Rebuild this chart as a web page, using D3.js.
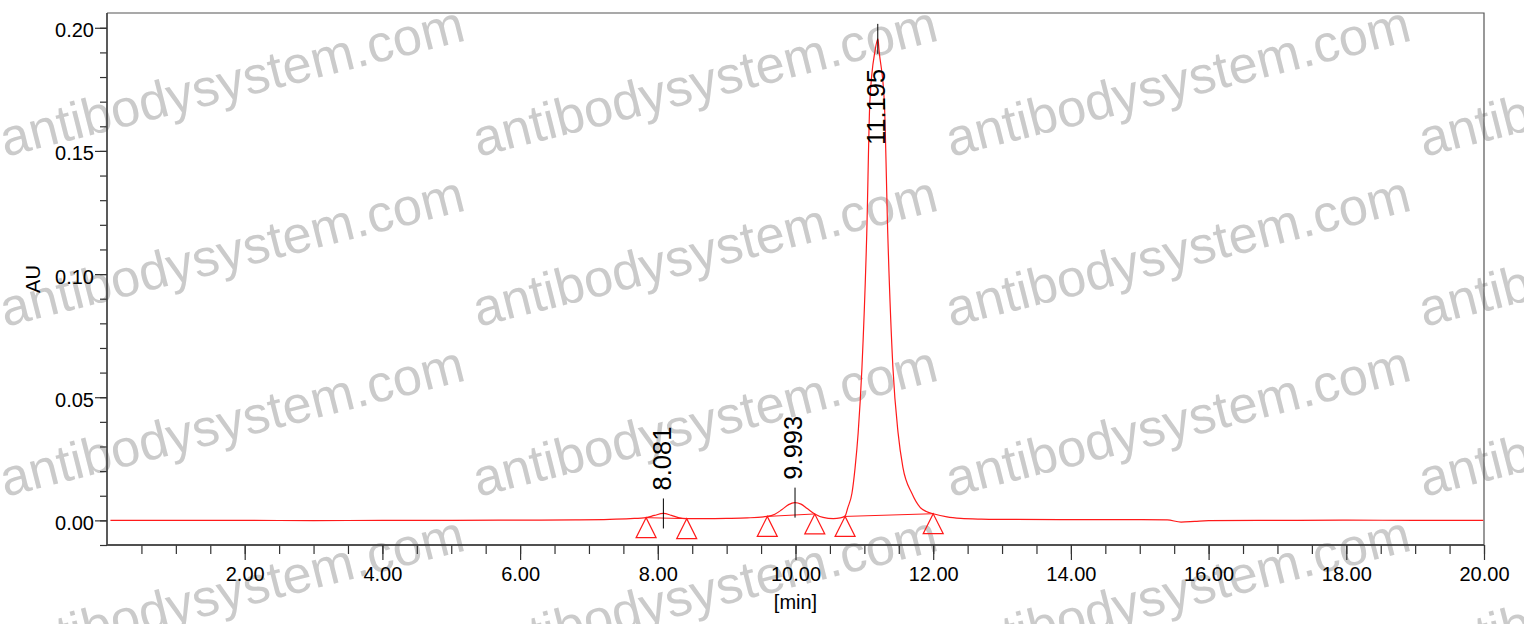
<!DOCTYPE html>
<html>
<head>
<meta charset="utf-8">
<script src="https://cdn.jsdelivr.net/npm/d3@7"></script>
<style>
  html, body { margin: 0; padding: 0; background: #fff; }
  svg { display: block; }
  text { font-family: "Liberation Sans", Arial, sans-serif; }
</style>
</head>
<body>
<svg id="chart" width="1524" height="624"></svg>
<script>
// ---- data ----
const times = [0.05, 1.0, 2.0, 3.0, 4.0, 5.0, 6.0, 6.8, 7.3, 7.6, 7.83, 7.95, 8.08, 8.2, 8.3, 8.42, 8.7, 9.0, 9.3,
  9.59, 9.7, 9.8, 9.9, 9.99, 10.08, 10.17, 10.28, 10.4, 10.55, 10.65, 10.72, 10.76, 10.82, 10.865, 10.91, 10.965,
  11.035, 11.08, 11.155, 11.197, 11.214, 11.29, 11.34, 11.415, 11.49, 11.56, 11.69, 11.81, 11.9, 12.0, 12.2, 12.4,
  12.7, 13.0, 14.0, 15.0, 15.4, 15.6, 15.8, 16.0, 17.0, 18.0, 19.0, 19.99];
const absorbance = [0.0000, 0.0000, 0.0000, -0.0001, 0.0000, 0.0000, 0.0001, 0.0002, 0.0004, 0.0007, 0.0011, 0.0020,
  0.0028, 0.0020, 0.0011, 0.0007, 0.0007, 0.0008, 0.0010, 0.0016, 0.0025, 0.0043, 0.0064, 0.0072, 0.0066, 0.0048,
  0.0026, 0.0012, 0.0007, 0.0010, 0.0018, 0.0052, 0.0110, 0.0212, 0.0355, 0.0620, 0.1165, 0.1700, 0.1906, 0.1955,
  0.1906, 0.1700, 0.1165, 0.0620, 0.0355, 0.0215, 0.0110, 0.0053, 0.0036, 0.0027, 0.0014, 0.0008, 0.0005, 0.0004,
  0.0003, 0.0003, 0.0002, -0.0007, -0.0004, -0.0001, 0.0000, 0.0001, 0.0000, 0.0000];

const peakTimes = [8.081, 9.993, 11.195];
const peakApex = [0.0028, 0.0072, 0.1955];
const peakLabels = ["8.081", "9.993", "11.195"];

const markerTimes = [7.83, 8.42, 9.59, 10.28, 10.72, 12.00];
const markerValues = [0.0011, 0.0007, 0.0016, 0.0026, 0.0016, 0.0027];

const xMajorTicks = [2, 4, 6, 8, 10, 12, 14, 16, 18, 20];
const xMinorTicks = d3.range(0.5, 20.01, 0.5);
const yMajorTicks = [0.00, 0.05, 0.10, 0.15, 0.20];
const yMinorTicks = d3.range(-0.01, 0.2001, 0.01);

const watermarkText = "antibodysystem.com";
const xTitle = "[min]";
const yTitle = "AU";

// ---- layout ----
const W = 1524, H = 624;
const L = 107, R = 1484, T = 13, B = 545;
const svg = d3.select("#chart");

const x = d3.scaleLinear().domain([0, 20]).range([L, R]);
const y = d3.scaleLinear().domain([-0.01, 0.206]).range([B, T]);

// watermark (underneath)
const wm = svg.append("g");
for (let c = 0; c < 4; c++) {
  for (let r = 0; r < 4; r++) {
    wm.append("text")
      .attr("transform", `translate(${5 + 473 * c},${157 + 170 * r}) rotate(-14.2)`)
      .attr("font-size", 52.3)
      .attr("fill", "#cbcbcb")
      .text(watermarkText);
  }
}

// frame (top & right)
svg.append("path")
  .attr("d", `M${L},${T}H${R}V${B}`)
  .attr("fill", "none").attr("stroke", "#555").attr("stroke-width", 1.2);

// x axis
const gxMinor = svg.append("g").attr("transform", `translate(0,${B})`)
  .call(d3.axisBottom(x).tickValues(xMinorTicks).tickSize(9).tickFormat(""));
const gx = svg.append("g").attr("transform", `translate(0,${B})`)
  .call(d3.axisBottom(x).tickValues(xMajorTicks).tickSize(15).tickPadding(7).tickFormat(d3.format(".2f")));
// y axis
const gyMinor = svg.append("g").attr("transform", `translate(${L},0)`)
  .call(d3.axisLeft(y).tickValues(yMinorTicks).tickSize(7).tickFormat(""));
const gy = svg.append("g").attr("transform", `translate(${L},0)`)
  .call(d3.axisLeft(y).tickValues(yMajorTicks).tickSize(12).tickPadding(1).tickFormat(d3.format(".2f")));

[gx, gxMinor, gy, gyMinor].forEach(g => {
  g.select(".domain").attr("stroke", "#444").attr("stroke-width", 1.3);
  g.selectAll(".tick line").attr("stroke", "#333").attr("stroke-width", 1.2);
  g.selectAll("text").attr("font-size", 20).attr("fill", "#000")
    .attr("font-family", '"Liberation Sans", Arial, sans-serif');
});
gy.selectAll("text").attr("dy", "0.45em");
gyMinor.select(".domain").attr("d", `M0,${B}V${T}`);
gy.select(".domain").attr("d", `M0,${B}V${T}`);
gx.select(".domain").attr("d", `M${L},0H${R}`);
gxMinor.select(".domain").attr("d", `M${L},0H${R}`);

// axis titles
svg.append("text").attr("x", (L + R) / 2 + 0).attr("y", 609)
  .attr("text-anchor", "middle").attr("font-size", 20).text(xTitle);
svg.append("text").attr("transform", `translate(40,279) rotate(-90)`)
  .attr("text-anchor", "middle").attr("font-size", 20).text(yTitle);

// clip
svg.append("clipPath").attr("id", "clip").append("rect")
  .attr("x", L).attr("y", T).attr("width", R - L).attr("height", B - T);
const plot = svg.append("g").attr("clip-path", "url(#clip)");

// chromatogram
const pts = times.map((t, i) => [t, absorbance[i]]);
plot.append("path")
  .datum(pts)
  .attr("fill", "none")
  .attr("stroke", "#ff1a1a")
  .attr("stroke-width", 1.2)
  .attr("d", d3.line().x(d => x(d[0])).y(d => y(d[1])).curve(d3.curveMonotoneX));

// integration baselines
for (let i = 0; i < markerTimes.length; i += 2) {
  plot.append("line")
    .attr("x1", x(markerTimes[i])).attr("y1", y(markerValues[i]))
    .attr("x2", x(markerTimes[i + 1])).attr("y2", y(markerValues[i + 1]))
    .attr("stroke", "#ff1a1a").attr("stroke-width", 1);
}
// triangle markers
markerTimes.forEach((t, i) => {
  const px = x(t), py = y(markerValues[i]);
  plot.append("path")
    .attr("d", `M${px},${py}L${px - 10},${py + 20}L${px + 10},${py + 20}Z`)
    .attr("fill", "none").attr("stroke", "#ff1a1a").attr("stroke-width", 1.2);
});

// peak labels
peakTimes.forEach((t, i) => {
  const px = x(t), py = y(peakApex[i]);
  svg.append("line")
    .attr("x1", px).attr("x2", px).attr("y1", py - 15).attr("y2", py + 15)
    .attr("stroke", "#000").attr("stroke-width", 1);
  const start = Math.max(py - 23, T + 132);
  svg.append("text")
    .attr("transform", `translate(${px},${start}) rotate(-90)`)
    .attr("dy", "0.28em")
    .attr("font-size", 25.5)
    .attr("fill", "#000")
    .text(peakLabels[i]);
});
</script>
</body>
</html>
